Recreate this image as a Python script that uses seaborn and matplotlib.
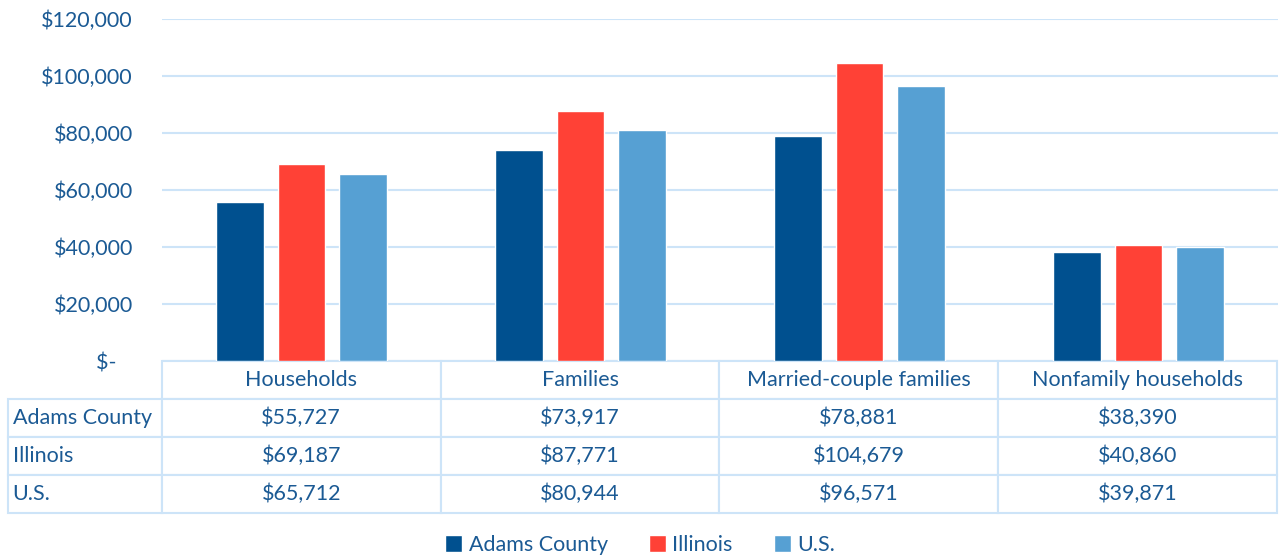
import matplotlib
matplotlib.use("Agg")
import matplotlib.pyplot as plt
import numpy as np
import pandas as pd
import seaborn as sns
from matplotlib.ticker import FuncFormatter

categories = ["Households", "Families", "Married-couple families", "Nonfamily households"]
regions = ["Adams County", "Illinois", "U.S."]
adams = [55727, 73917, 78881, 38390]
illinois = [69187, 87771, 104679, 40860]
us = [65712, 80944, 96571, 39871]
y_ticks = [0, 20000, 40000, 60000, 80000, 100000, 120000]

colors = ["#00508F", "#FF4136", "#56A0D3"]
text_c = "#1B5A94"
grid_c = "#CDE4F8"

df = pd.DataFrame({
    "Category": categories * 3,
    "Region": np.repeat(regions, len(categories)),
    "Income": adams + illinois + us,
})

sns.set_theme(style="white")
plt.rcParams["font.family"] = ["Lato", "DejaVu Sans"]

W, H = 1280, 558
fig = plt.figure(figsize=(W / 100, H / 100), dpi=100)
# plot area: x 162..1278 px, y 19..361 px
ax = fig.add_axes([162 / W, 1 - 361 / H, 1116 / W, 342 / H])

sns.barplot(data=df, x="Category", y="Income", hue="Region", palette=colors,
            saturation=1, width=0.66, gap=0.22, ax=ax)

ax.set_ylim(0, 120000)
ax.set_xlim(-0.5, 3.5)
ax.set_yticks(y_ticks)
ax.yaxis.set_major_formatter(FuncFormatter(lambda v, p: "$-   " if v == 0 else f"${v:,.0f}"))
ax.set_xticks([])
ax.set_xlabel("")
ax.set_ylabel("")
ax.tick_params(axis="y", length=0, labelsize=15.5, colors=text_c, pad=21)
ax.yaxis.grid(True, color=grid_c, linewidth=1.5)
ax.set_axisbelow(True)
for s in ax.spines.values():
    s.set_visible(False)

# data table under the plot
cell_text = [[r] + [f"${v:,}" for v in vals] for r, vals in zip(regions, [adams, illinois, us])]
tab = ax.table(cellText=cell_text, colLabels=[""] + categories, cellLoc="center",
               colWidths=[154, 279, 279, 279, 279],
               bbox=[(8 - 162) / 1116, -152 / 342, 1269 / 1116, 152 / 342])
tab.auto_set_font_size(False)
tab.set_fontsize(15.5)
for (r, c), cell in tab.get_celld().items():
    cell.set_edgecolor(grid_c)
    cell.set_linewidth(1.5)
    cell.get_text().set_color(text_c)
    if r == 0 and c == 0:
        cell.set_visible(False)
    if c == 0 and r > 0:
        cell.get_text().set_horizontalalignment("left")
        cell.PAD = 0.03

handles, labels = ax.get_legend_handles_labels()
ax.get_legend().remove()
fig.legend(handles, labels, loc="center", bbox_to_anchor=(0.5, 1 - 545 / H), ncol=3,
           frameon=False, handlelength=0.8, handleheight=0.8, columnspacing=1.9,
           handletextpad=0.3, labelcolor=text_c, fontsize=15.5)

fig.savefig("out.png", dpi=100)
